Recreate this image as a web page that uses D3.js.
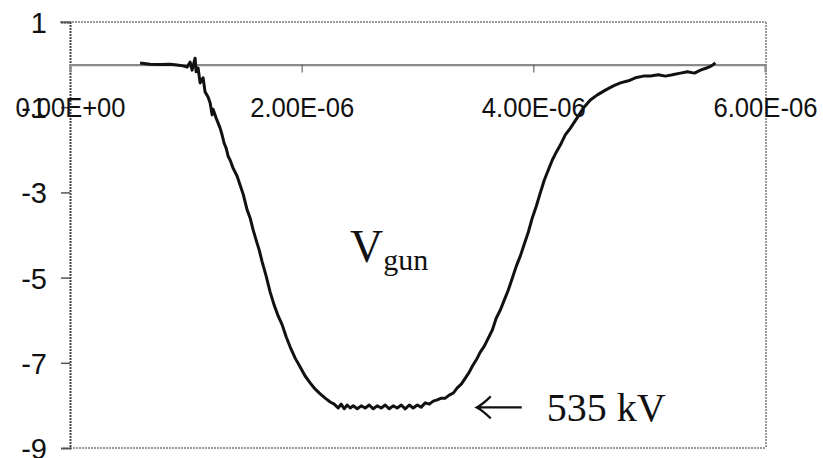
<!DOCTYPE html>
<html>
<head>
<meta charset="utf-8">
<script src="https://cdn.jsdelivr.net/npm/d3@7"></script>
<style>
  html, body { margin: 0; padding: 0; background: #fff; }
  svg { display: block; }
</style>
</head>
<body>
<svg id="chart" width="823" height="458"></svg>
<script>
// ---- data (time in microseconds, voltage in the chart's units) ----
const timeUs = [
  0.605, 0.691, 0.778, 0.864, 0.924, 0.976, 1.011, 1.037, 1.054, 1.080,
  1.089, 1.106, 1.123, 1.149, 1.166, 1.192, 1.210, 1.227, 1.235, 1.261,
  1.296, 1.313, 1.330, 1.348, 1.365, 1.382, 1.408, 1.443, 1.469, 1.495,
  1.529, 1.555, 1.581, 1.607, 1.633, 1.659, 1.693, 1.728, 1.762, 1.797,
  1.832, 1.866, 1.901, 1.944, 1.987, 2.030, 2.073, 2.117, 2.160, 2.203,
  2.246, 2.281, 2.315, 2.341, 2.367, 2.393, 2.419, 2.445, 2.480, 2.514,
  2.549, 2.583, 2.618, 2.652, 2.687, 2.721, 2.756, 2.790, 2.825, 2.860,
  2.894, 2.929, 2.963, 2.998, 3.032, 3.067, 3.102, 3.136, 3.171, 3.205,
  3.240, 3.274, 3.309, 3.343, 3.378, 3.413, 3.447, 3.473, 3.508, 3.542,
  3.577, 3.611, 3.646, 3.680, 3.715, 3.749, 3.784, 3.819, 3.853, 3.888,
  3.922, 3.957, 3.991, 4.026, 4.060, 4.095, 4.130, 4.164, 4.199, 4.233,
  4.276, 4.320, 4.371, 4.432, 4.492, 4.553, 4.622, 4.691, 4.752, 4.821,
  4.881, 4.950, 5.011, 5.080, 5.140, 5.201, 5.270, 5.330, 5.391, 5.443,
  5.495, 5.538, 5.572
];
const vgun = [
  0.04, 0.01, 0.00, 0.01, -0.01, -0.03, -0.06, 0.06, -0.13, 0.15,
  -0.17, -0.08, -0.43, -0.31, -0.64, -0.76, -0.90, -1.18, -1.05, -1.25,
  -1.49, -1.65, -1.84, -1.96, -2.15, -2.24, -2.43, -2.62, -2.83, -3.04,
  -3.41, -3.60, -3.88, -4.12, -4.35, -4.63, -4.96, -5.34, -5.64, -5.90,
  -6.11, -6.39, -6.63, -6.89, -7.10, -7.31, -7.47, -7.62, -7.73, -7.83,
  -7.92, -7.97, -8.06, -7.97, -8.08, -7.99, -8.06, -8.01, -8.08, -8.01,
  -8.06, -7.99, -8.08, -8.01, -8.06, -7.99, -8.08, -8.01, -8.06, -7.99,
  -8.08, -7.99, -8.06, -7.99, -8.04, -7.94, -7.97, -7.90, -7.87, -7.83,
  -7.83, -7.76, -7.71, -7.59, -7.50, -7.36, -7.22, -7.08, -6.93, -6.75,
  -6.61, -6.42, -6.23, -5.95, -5.76, -5.53, -5.29, -5.01, -4.73, -4.49,
  -4.21, -3.93, -3.60, -3.32, -3.01, -2.71, -2.47, -2.24, -2.05, -1.89,
  -1.65, -1.49, -1.28, -1.02, -0.83, -0.71, -0.60, -0.50, -0.43, -0.38,
  -0.31, -0.27, -0.27, -0.24, -0.27, -0.24, -0.20, -0.17, -0.20, -0.13,
  -0.08, -0.03, 0.04
];
const xTicks = [0, 2e-6, 4e-6, 6e-6];
const xTickLabels = ["0.00E+00", "2.00E-06", "4.00E-06", "6.00E-06"];
const yTicks = [1, -1, -3, -5, -7, -9];
const yTickLabels = ["1", "-1", "-3", "-5", "-7", "-9"];
const seriesLabel = "V";
const seriesSub = "gun";
const annotationText = "535 kV";
const annotationValue = -8.0;
const annotationTime = 3.52e-6;

// ---- layout ----
const svg = d3.select("#chart");
const mLeft = 70, mRight = 765, mTop = 22, mBottom = 448;

const x = d3.scaleLinear().domain([0, 6e-6]).range([mLeft, mRight]);
const y = d3.scaleLinear().domain([1, -9]).range([mTop, mBottom]);

const sans = "'Liberation Sans', Arial, sans-serif";
const serif = "'Liberation Serif', 'Times New Roman', serif";

// plot area frame (dotted grey: top, right, bottom)
svg.append("line").attr("x1", mLeft - 10).attr("x2", mRight + 1)
  .attr("y1", y(1)).attr("y2", y(1))
  .attr("stroke", "#9a9a9a").attr("stroke-width", 2).attr("stroke-dasharray", "2,1");
svg.append("line").attr("x1", mRight + 1).attr("x2", mRight + 1)
  .attr("y1", y(1)).attr("y2", y(-9))
  .attr("stroke", "#9a9a9a").attr("stroke-width", 2).attr("stroke-dasharray", "2,1");
svg.append("line").attr("x1", mLeft).attr("x2", mRight + 1)
  .attr("y1", y(-9)).attr("y2", y(-9))
  .attr("stroke", "#9a9a9a").attr("stroke-width", 2).attr("stroke-dasharray", "2,1");

// y axis
const yAxis = d3.axisLeft(y).tickValues(yTicks).tickSize(9).tickPadding(14)
  .tickFormat((d, i) => yTickLabels[i]);
const gy = svg.append("g").attr("transform", `translate(${mLeft},0)`).call(yAxis);
gy.select(".domain").attr("stroke", "#444").attr("stroke-width", 2).attr("stroke-dasharray", "2,1");
gy.selectAll(".tick line").attr("stroke", "#555").attr("stroke-width", 1.5);
gy.selectAll(".tick text").attr("font-family", sans).attr("font-size", 29)
  .attr("fill", "#111").attr("dy", "0.36em");

// x axis at y = 0
const xAxis = d3.axisBottom(x).tickValues(xTicks).tickSize(8).tickPadding(0)
  .tickFormat((d, i) => xTickLabels[i]);
const gx = svg.append("g").attr("transform", `translate(0,${y(0)})`).call(xAxis);
gx.select(".domain").attr("stroke", "#8a8a8a").attr("stroke-width", 2.2);
gx.selectAll(".tick line").attr("stroke", "#666").attr("stroke-width", 1.2)
  .attr("opacity", (d, i) => (i === 0 || i === xTicks.length - 1) ? 0 : 1);
gx.selectAll(".tick text")
  .attr("font-family", sans).attr("font-size", 27).attr("fill", "#111")
  .attr("y", 52).attr("dy", 0)
  .attr("textLength", (d, i) => i === 0 ? 110 : 104)
  .attr("lengthAdjust", "spacingAndGlyphs");

// data line
const pts = timeUs.map((t, i) => [t * 1e-6, vgun[i]]);
const line = d3.line().x(d => x(d[0])).y(d => y(d[1]));
svg.append("path").datum(pts).attr("d", line)
  .attr("fill", "none").attr("stroke", "#111").attr("stroke-width", 3)
  .attr("stroke-linejoin", "round");

// series label V_gun
const lab = svg.append("text").attr("x", 350).attr("y", 262)
  .attr("font-family", serif).attr("fill", "#111");
lab.append("tspan").attr("font-size", 46).text(seriesLabel);
lab.append("tspan").attr("font-size", 30).attr("dy", 8).text(seriesSub);

// annotation arrow and text
const ay = y(annotationValue) + 2;
const ax = x(annotationTime) - 1;
const arrow = d3.path();
arrow.moveTo(ax + 45, ay); arrow.lineTo(ax, ay);
arrow.moveTo(ax + 14, ay - 11); arrow.quadraticCurveTo(ax + 6, ay - 3, ax, ay);
arrow.quadraticCurveTo(ax + 6, ay + 3, ax + 14, ay + 11);
svg.append("path").attr("d", arrow.toString())
  .attr("fill", "none").attr("stroke", "#111").attr("stroke-width", 2.2);
svg.append("text").attr("x", ax + 70).attr("y", ay + 14)
  .attr("font-family", serif).attr("font-size", 40).attr("fill", "#111")
  .text(annotationText);
</script>
</body>
</html>
